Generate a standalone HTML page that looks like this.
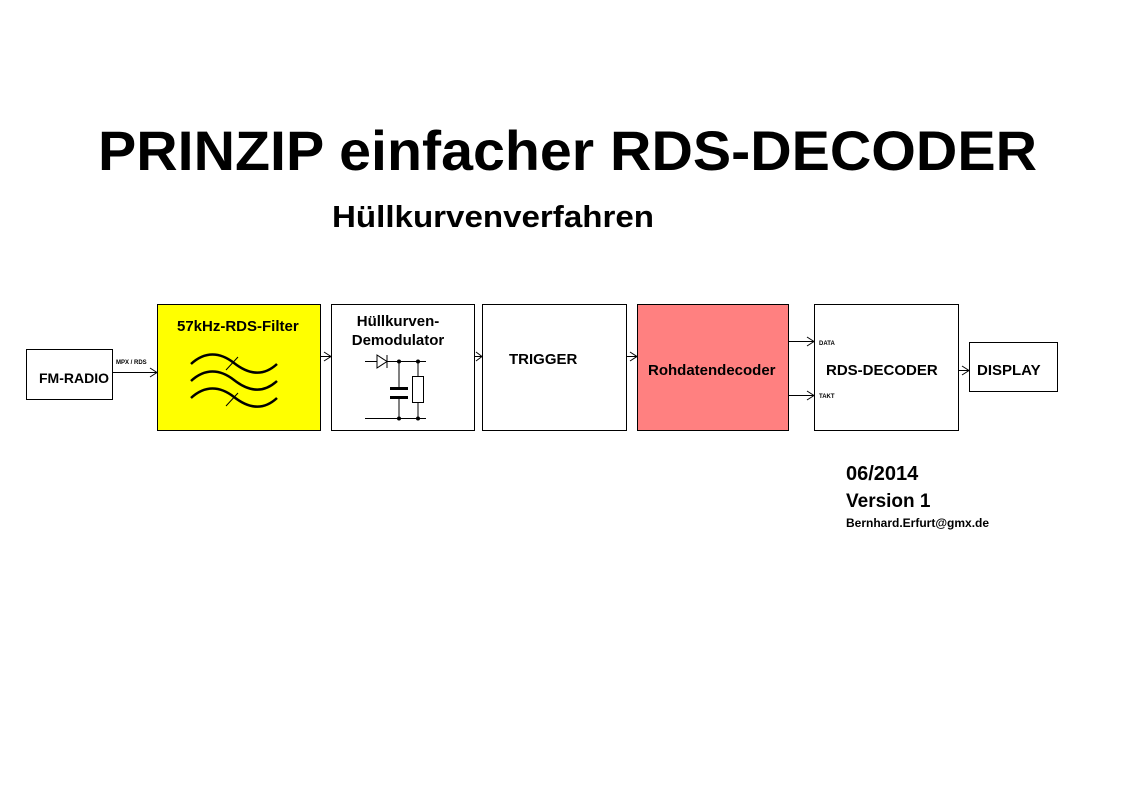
<!DOCTYPE html>
<html><head><meta charset="utf-8"><style>
html,body{margin:0;padding:0;background:#fff;}
svg{display:block;font-family:"Liberation Sans",Arial,sans-serif;font-weight:bold;}
</style></head><body>
<svg width="1123" height="793" viewBox="0 0 1123 793" xmlns="http://www.w3.org/2000/svg">
<text x="98" y="170" font-size="56" textLength="939" lengthAdjust="spacingAndGlyphs">PRINZIP einfacher RDS-DECODER</text>
<text x="332" y="227" font-size="31" textLength="322" lengthAdjust="spacingAndGlyphs">Hüllkurvenverfahren</text>

<g fill="none" stroke="#000" stroke-width="1">
<rect x="26.5" y="349.5" width="86" height="50" fill="#fff"/>
<rect x="157.5" y="304.5" width="163" height="126" fill="#ffff00"/>
<rect x="331.5" y="304.5" width="143" height="126" fill="#fff"/>
<rect x="482.5" y="304.5" width="144" height="126" fill="#fff"/>
<rect x="637.5" y="304.5" width="151" height="126" fill="#ff8080"/>
<rect x="814.5" y="304.5" width="144" height="126" fill="#fff"/>
<rect x="969.5" y="342.5" width="88" height="49" fill="#fff"/>
<path d="M112 372.5H157M150 368l7 4.5-7 4.5"/>
<path d="M320 356.5H331M324 352l7 4.5-7 4.5"/>
<path d="M474 356.5H482M476 352l6 4.5-6 4.5"/>
<path d="M626 356.5H637M630 352l7 4.5-7 4.5"/>
<path d="M788 341.5H814M807 337l7 4.5-7 4.5"/>
<path d="M788 395.5H814M807 391l7 4.5-7 4.5"/>
<path d="M958 370.5H969M962 366l7 4.5-7 4.5"/>
<g stroke-width="2.5">
<path d="M191 364 C205 351 220 352 234 363 S263 377 277 364"/>
<path d="M191 381 C205 368 220 369 234 380 S263 394 277 381"/>
<path d="M191 398 C205 385 220 386 234 397 S263 411 277 398"/>
</g>
<path d="M226 370 L238 357M226 406 L238 393"/>
<path d="M365 361.5H426M365 418.5H426"/>
<path d="M377 355v13l10-6.5z" fill="#fff"/>
<path d="M387 355v13"/>
<path d="M399 361v27M399 398v20M418 361v15M418 402v16"/>
<rect x="412.5" y="376.5" width="11" height="26" fill="#fff"/>
</g>
<rect x="390" y="387" width="18" height="3"/>
<rect x="390" y="396" width="18" height="3"/>
<circle cx="399" cy="361.5" r="2"/><circle cx="418" cy="361.5" r="2"/>
<circle cx="399" cy="418.5" r="2"/><circle cx="418" cy="418.5" r="2"/>

<text x="39" y="383" font-size="14">FM-RADIO</text>
<text x="116" y="364" font-size="6">MPX / RDS</text>
<text x="177" y="331" font-size="15">57kHz-RDS-Filter</text>
<text x="398" y="326" font-size="15" text-anchor="middle">Hüllkurven-</text>
<text x="398" y="345" font-size="15" text-anchor="middle">Demodulator</text>
<text x="509" y="364" font-size="15">TRIGGER</text>
<text x="648" y="375" font-size="15">Rohdatendecoder</text>
<text x="826" y="375" font-size="15">RDS-DECODER</text>
<text x="977" y="375" font-size="15">DISPLAY</text>
<text x="819" y="345" font-size="6">DATA</text>
<text x="819" y="398" font-size="6">TAKT</text>
<text x="846" y="480" font-size="20">06/2014</text>
<text x="846" y="507" font-size="19">Version 1</text>
<text x="846" y="527" font-size="12">Bernhard.Erfurt@gmx.de</text>
</svg>
</body></html>
